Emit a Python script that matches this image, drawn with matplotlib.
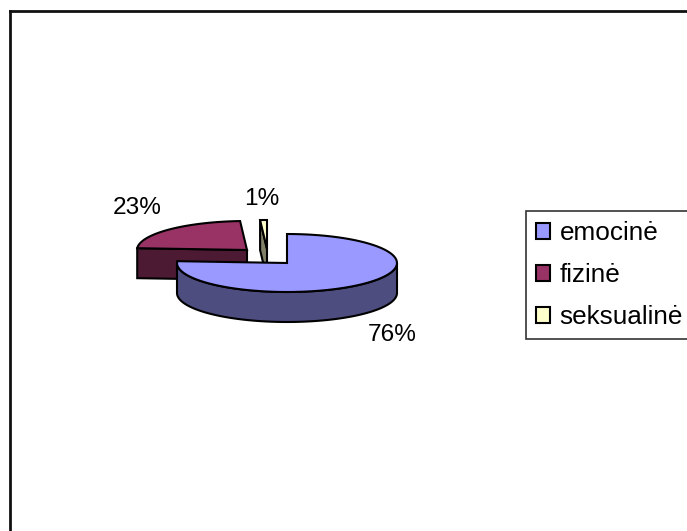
"""Exploded 3D-look pie chart of violence types."""

import matplotlib

matplotlib.use("Agg")

import matplotlib.pyplot as plt
import numpy as np
from matplotlib.patches import Patch, Polygon

categories = ["emocinė", "fizinė", "seksualinė"]
shares = [76, 23, 1]
pct_labels = ["76%", "23%", "1%"]

top_colors = ["#9999FF", "#993366", "#FFFFCC"]
wall_colors = ["#4D4D80", "#4D1A33", "#808066"]

# pixel layout of each slice: apex of the top face
apexes = [(287, 263), (247, 250), (267, 249)]
label_positions = [(392, 335), (137, 208), (262, 199)]
RX, RY, DEPTH = 110, 29, 30
EDGE_WIDTH = 1.5


def rim(apex, start, end, count=80):
    # angles are clockwise from 12 o'clock, in percent of the full pie
    theta = np.radians(np.linspace(start, end, count) * 3.6)
    return np.column_stack(
        [apex[0] + RX * np.sin(theta), apex[1] - RY * np.cos(theta)]
    )


def draw_slice(ax, apex, start, end, top_color, wall_color, zorder):
    outline = rim(apex, start, end)
    down = np.array([0, DEPTH])

    # outer wall, only the part of the rim that faces the viewer
    front_start, front_end = max(start, 25), min(end, 75)
    if front_start < front_end:
        front = rim(apex, front_start, front_end)
        wall = np.vstack([front, (front + down)[::-1]])
        ax.add_patch(
            Polygon(wall, fc=wall_color, ec="black", lw=EDGE_WIDTH, zorder=zorder)
        )

    # the start cut looks towards the viewer on the left half of the pie
    if start > 50:
        cut = np.array([apex, outline[0]])
        face = np.vstack([cut, (cut + down)[::-1]])
        ax.add_patch(
            Polygon(face, fc=wall_color, ec="black", lw=EDGE_WIDTH, zorder=zorder)
        )

    top = np.vstack([[apex], outline])
    ax.add_patch(
        Polygon(top, fc=top_color, ec="black", lw=EDGE_WIDTH, zorder=zorder + 0.5)
    )


fig = plt.figure(figsize=(6.87, 5.31), dpi=100)
ax = fig.add_axes([10 / 687, 0, 677 / 687, 520 / 531])
ax.set_xlim(10, 687)
ax.set_ylim(531, 11)
ax.set_xticks([])
ax.set_yticks([])
ax.spines["right"].set_visible(False)
ax.spines["bottom"].set_visible(False)
ax.spines["top"].set_linewidth(2)
ax.spines["left"].set_linewidth(2)
ax.spines["top"].set_color("#111111")
ax.spines["left"].set_color("#111111")

edges = np.concatenate([[0], np.cumsum(shares)])
# the big slice sits in front, so it goes on last
for index in [1, 2, 0]:
    draw_slice(
        ax,
        apexes[index],
        edges[index],
        edges[index + 1],
        top_colors[index],
        wall_colors[index],
        zorder=3 if index == 0 else 2,
    )

font = "Liberation Sans"
for label, (x, y) in zip(pct_labels, label_positions):
    ax.text(x, y, label, ha="center", va="center", fontsize=17.6, family=font, color="black")

handles = [
    Patch(facecolor=color, edgecolor="black", linewidth=EDGE_WIDTH) for color in top_colors
]
legend = ax.legend(
    handles,
    categories,
    loc="upper left",
    bbox_to_anchor=(526, 211),
    bbox_transform=ax.transData,
    prop={"family": font, "size": 18.8},
    frameon=True,
    fancybox=False,
    framealpha=1,
    edgecolor="#333333",
    handlelength=0.55,
    handleheight=0.55,
    handletextpad=0.35,
    labelspacing=0.69,
    borderpad=0.38,
    borderaxespad=0,
)
legend.get_frame().set_linewidth(1.2)

fig.savefig("out.png", dpi=100)
plt.close(fig)
